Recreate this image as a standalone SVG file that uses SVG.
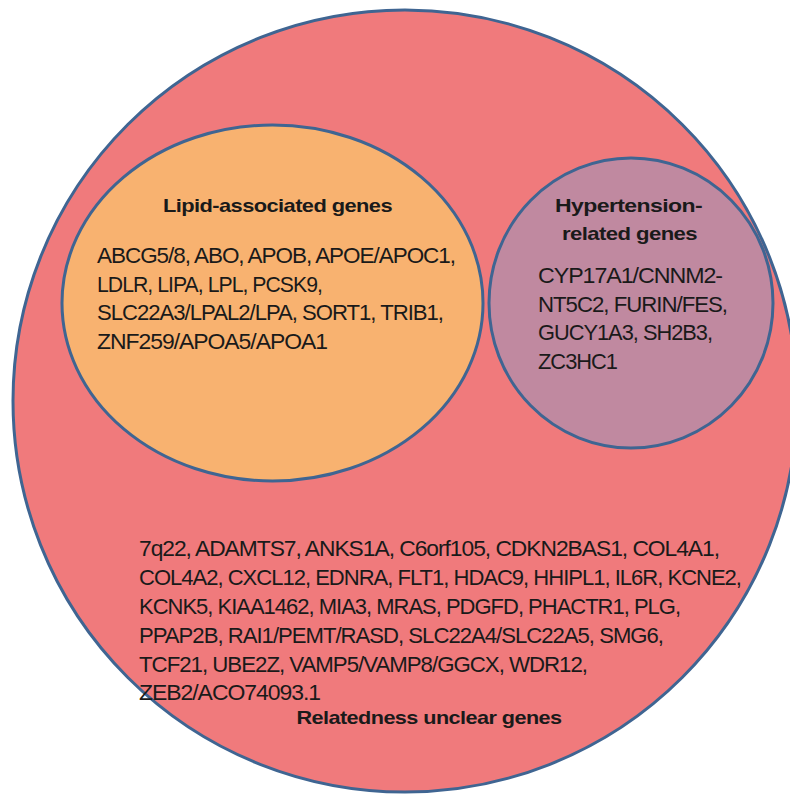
<svg xmlns="http://www.w3.org/2000/svg" width="790" height="794" viewBox="0 0 790 794">
<style>
.set{stroke:#3F6592;stroke-width:3}
.t{font-family:"Liberation Sans",Arial,sans-serif;font-size:22px;letter-spacing:-1px;fill:#1a1a1a}
.h{font-family:"Liberation Sans",Arial,sans-serif;font-size:19px;font-weight:bold;letter-spacing:-0.5px;fill:#1a1a1a}
</style>
<rect width="790" height="794" fill="#ffffff"/>
<g id="unclear">
<ellipse class="set" cx="405" cy="401" rx="392" ry="391" fill="#F07A7C"/>
<text class="t" x="139" y="556" textLength="580" lengthAdjust="spacingAndGlyphs">7q22, ADAMTS7, ANKS1A, C6orf105, CDKN2BAS1, COL4A1,</text>
<text class="t" x="139" y="585" textLength="602" lengthAdjust="spacingAndGlyphs">COL4A2, CXCL12, EDNRA, FLT1, HDAC9, HHIPL1, IL6R, KCNE2,</text>
<text class="t" x="139" y="614" textLength="541" lengthAdjust="spacingAndGlyphs">KCNK5, KIAA1462, MIA3, MRAS, PDGFD, PHACTR1, PLG,</text>
<text class="t" x="139" y="643" textLength="524" lengthAdjust="spacingAndGlyphs">PPAP2B, RAI1/PEMT/RASD, SLC22A4/SLC22A5, SMG6,</text>
<text class="t" x="139" y="672" textLength="448" lengthAdjust="spacingAndGlyphs">TCF21, UBE2Z, VAMP5/VAMP8/GGCX, WDR12,</text>
<text class="t" x="139" y="700" textLength="181" lengthAdjust="spacingAndGlyphs">ZEB2/ACO74093.1</text>
<text class="h" x="429" y="724" text-anchor="middle" textLength="265" lengthAdjust="spacingAndGlyphs">Relatedness unclear genes</text>
</g>
<g id="lipid">
<ellipse class="set" cx="272.5" cy="303" rx="210.5" ry="178" fill="#F8B270"/>
<text class="h" x="277.5" y="212" text-anchor="middle" textLength="229" lengthAdjust="spacingAndGlyphs">Lipid-associated genes</text>
<text class="t" x="97" y="263" textLength="358" lengthAdjust="spacingAndGlyphs">ABCG5/8, ABO, APOB, APOE/APOC1,</text>
<text class="t" x="97" y="292" textLength="225" lengthAdjust="spacingAndGlyphs">LDLR, LIPA, LPL, PCSK9,</text>
<text class="t" x="97" y="320" textLength="346" lengthAdjust="spacingAndGlyphs">SLC22A3/LPAL2/LPA, SORT1, TRIB1,</text>
<text class="t" x="97" y="349" textLength="230" lengthAdjust="spacingAndGlyphs">ZNF259/APOA5/APOA1</text>
</g>
<g id="hypertension">
<ellipse class="set" cx="631" cy="303" rx="142" ry="145" fill="#C089A0"/>
<text class="h" x="628.5" y="212" text-anchor="middle" textLength="147" lengthAdjust="spacingAndGlyphs">Hypertension-</text>
<text class="h" x="629.5" y="240" text-anchor="middle" textLength="135" lengthAdjust="spacingAndGlyphs">related genes</text>
<text class="t" x="538" y="283" textLength="184" lengthAdjust="spacingAndGlyphs">CYP17A1/CNNM2-</text>
<text class="t" x="538" y="312" textLength="189" lengthAdjust="spacingAndGlyphs">NT5C2, FURIN/FES,</text>
<text class="t" x="538" y="340" textLength="174" lengthAdjust="spacingAndGlyphs">GUCY1A3, SH2B3,</text>
<text class="t" x="538" y="369" textLength="79" lengthAdjust="spacingAndGlyphs">ZC3HC1</text>
</g>
<g id="connectors"></g>
</svg>
